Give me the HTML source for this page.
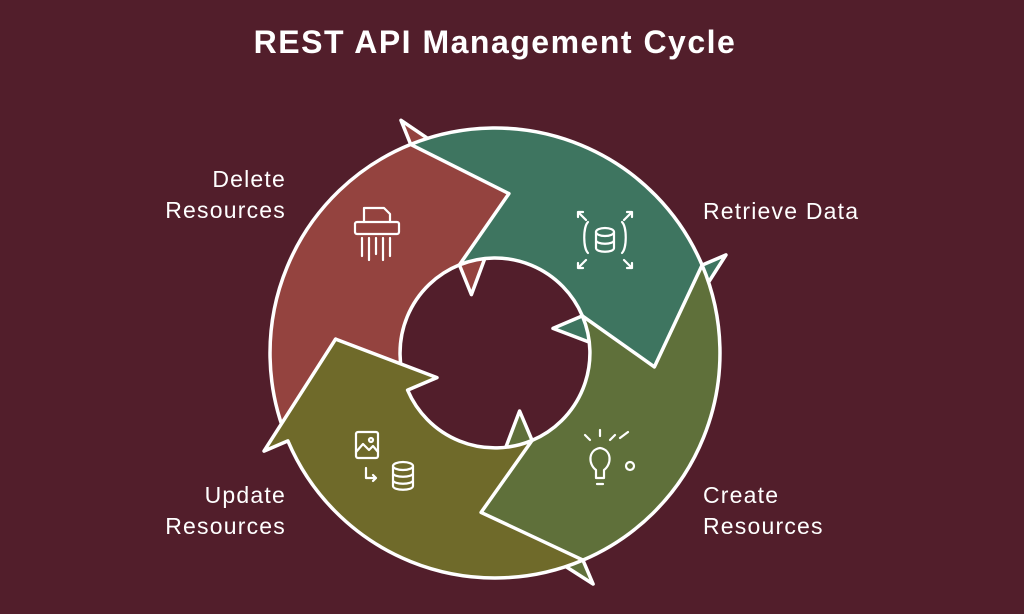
<!DOCTYPE html>
<html><head><meta charset="utf-8"><style>
html,body{margin:0;padding:0;background:#521e2b;}
body{width:1024px;height:614px;overflow:hidden;position:relative;font-family:"Liberation Sans",sans-serif;color:#fff;}
.t{position:absolute;white-space:nowrap;}
h1{position:absolute;left:0;width:990px;top:24px;margin:0;text-align:center;font-size:32px;font-weight:bold;letter-spacing:1.5px;}
.l{font-size:23px;line-height:31px;letter-spacing:1.2px;}
</style></head><body>
<h1>REST API Management Cycle</h1>
<div class="t l" style="left:100px;top:164px;text-align:right;width:186px">Delete<br>Resources</div>
<div class="t l" style="left:703px;top:196px">Retrieve Data</div>
<div class="t l" style="left:703px;top:480px">Create<br>Resources</div>
<div class="t l" style="left:100px;top:480px;text-align:right;width:186px">Update<br>Resources</div>
<svg id="s" width="1024" height="614" style="position:absolute;left:0;top:0">
<g id="g"></g>
<g fill="none" stroke="#fff" stroke-width="2.2" stroke-linecap="round" stroke-linejoin="round">
 <rect x="355" y="222" width="44" height="12" rx="2"/>
 <path d="M364 222 V208 H384 L390 214 V222"/>
 <path d="M362 238v18M369 238v22M376 238v16M383 238v22M390 238v18"/>
 <ellipse cx="605" cy="232" rx="9" ry="4"/>
 <path d="M596 232v16c0 5 18 5 18 0v-16M596 240c0 5 18 5 18 0"/>
 <path d="M588 222c-5 5-5 26 0 31M622 222c5 5 5 26 0 31"/>
 <path d="M578 212l8 8M578 212h5M578 212v5M632 212l-8 8M632 212h-5M632 212v5M578 268l8-8M578 268h5M578 268v-5M632 268l-8-8M632 268h-5M632 268v-5"/>
 <path d="M596 470c-8-6-8-20 4-22c12 2 12 16 4 22v8h-8z"/>
 <path d="M597 484h6M590 440l-5-5M610 440l5-5M600 436v-6"/>
 <circle cx="630" cy="466" r="4"/>
 <path d="M620 438l8-6"/>
 <rect x="356" y="432" width="22" height="26" rx="2"/>
 <path d="M356 452l7-8 6 6 4-4 5 6"/>
 <circle cx="371" cy="440" r="2"/>
 <path d="M366 468v10h10M373 475l3 3-3 3"/>
 <ellipse cx="403" cy="466" rx="10" ry="4"/>
 <path d="M393 466v20c0 5 20 5 20 0v-20M393 473c0 5 20 5 20 0M393 480c0 5 20 5 20 0"/>
</g>
</svg>
<script>
var cx=495,cy=353,R=225,r=95,M=160;
function p(rad,a){a=a*Math.PI/180;return (cx+rad*Math.cos(a)).toFixed(1)+' '+(cy+rad*Math.sin(a)).toFixed(1);}
var segs=[
 {B:-112,T:-85,PB:157,PT:185,c:'#94433f'},
 {B:-23,T:5,PB:-112,PT:-85,c:'#3e7560'},
 {B:67,T:95,PB:-23,PT:5,c:'#5f703a'},
 {B:157,T:185,PB:67,PT:95,c:'#6f6a2a'}
];
var h='';
segs.forEach(function(s){
 var d='M'+p(R,s.PB)+' A'+R+' '+R+' 0 0 1 '+p(R,s.B)+' L'+p(R+26,s.B)+' L'+p(M,s.T)+' L'+p(r-32,s.B)+' L'+p(r,s.B)+' A'+r+' '+r+' 0 0 0 '+p(r,s.PB)+' L'+p(M,s.PT)+' Z';
 h+='<path d="'+d+'" fill="'+s.c+'" stroke="#fff" stroke-width="3.5" stroke-linejoin="round"/>';
});
document.getElementById('g').innerHTML=h;
</script>
</body></html>
